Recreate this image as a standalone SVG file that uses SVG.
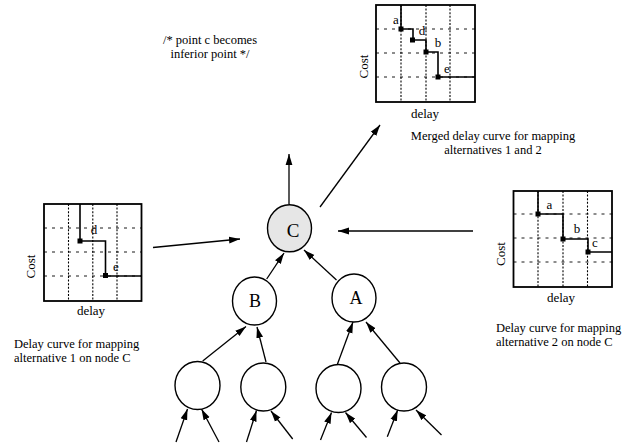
<svg xmlns="http://www.w3.org/2000/svg" width="644" height="445" viewBox="0 0 644 445">
<defs>
<marker id="ah" markerWidth="11" markerHeight="8" refX="11" refY="4" orient="auto" markerUnits="userSpaceOnUse"><path d="M0,0.6 L11,4 L0,7.4 z" fill="#000"/></marker>
<style>
text{font-family:"Liberation Serif","Times New Roman",serif;fill:#000}
.t{font-size:13px}
.l{font-size:12.5px}
.n{font-size:18px;text-anchor:middle}
.box{fill:#fff;stroke:#000;stroke-width:1.8}
.vg{stroke:#000;stroke-width:1.1;stroke-dasharray:2,1.6;fill:none}
.hg{stroke:#000;stroke-width:0.9;stroke-dasharray:3,5;fill:none}
.st{stroke:#000;stroke-width:1.6;fill:none}
.pt{fill:#000}
.node{fill:#fff;stroke:#000;stroke-width:1.4}
.edge{stroke:#000;stroke-width:1.3;fill:none;marker-end:url(#ah)}
</style>
</defs>
<rect width="644" height="445" fill="#fff"/>

<text class="l" x="210" y="44" text-anchor="middle">/* point c becomes</text>
<text class="l" x="210" y="58" text-anchor="middle">inferior point */</text>

<g id="chart-merged">
<rect class="box" x="376" y="5" width="99" height="97"/>
<path class="vg" d="M401,5V102M426,5V102M450,5V102"/>
<path class="hg" d="M376,29H476M376,53H477M376,77H476"/>
<path class="st" d="M401,5V29H413V40H426V52H438V77H475"/>
<rect class="pt" x="398.5" y="26.5" width="5" height="5"/>
<rect class="pt" x="410" y="37.5" width="5" height="5"/>
<rect class="pt" x="423.5" y="49.5" width="5" height="5"/>
<rect class="pt" x="435.5" y="74.5" width="5" height="5"/>
<text class="t" x="396" y="24" text-anchor="middle">a</text>
<text class="t" x="422" y="35" text-anchor="middle">d</text>
<text class="t" x="438" y="47" text-anchor="middle">b</text>
<text class="t" x="447" y="73" text-anchor="middle">e</text>
<text class="t" transform="translate(368,66.5) rotate(-90)" text-anchor="middle">Cost</text>
<text class="t" x="425" y="118" text-anchor="middle">delay</text>
<text class="l" x="493" y="140" text-anchor="middle">Merged delay curve for mapping</text>
<text class="l" x="493" y="154" text-anchor="middle">alternatives 1 and 2</text>
</g>

<g id="chart-alt1">
<rect class="box" x="44" y="204" width="97.5" height="97"/>
<path class="vg" d="M68.5,204V301M92.8,204V301M117,204V301"/>
<path class="hg" d="M44,228H142M44,252H142M44,276H142"/>
<path class="st" d="M80,204V241H105.5V276H141.5"/>
<rect class="pt" x="77.5" y="238.5" width="5" height="5"/>
<rect class="pt" x="103" y="273" width="5" height="5"/>
<text class="t" x="94" y="234" text-anchor="middle">d</text>
<text class="t" x="116" y="270.5" text-anchor="middle">e</text>
<text class="t" transform="translate(35,266.5) rotate(-90)" text-anchor="middle">Cost</text>
<text class="t" x="91" y="315" text-anchor="middle">delay</text>
<text class="l" x="14" y="348">Delay curve for mapping</text>
<text class="l" x="14" y="362">alternative 1 on node C</text>
</g>

<g id="chart-alt2">
<rect class="box" x="513.5" y="191" width="98.5" height="96"/>
<path class="vg" d="M538,191V287M563,191V287M587.5,191V287"/>
<path class="hg" d="M513.5,214H613M513.5,238H613M513.5,262H613"/>
<path class="st" d="M538,191V214H563V239H588V252H612"/>
<rect class="pt" x="535.5" y="211.5" width="5" height="5"/>
<rect class="pt" x="560.5" y="236.5" width="5" height="5"/>
<rect class="pt" x="585.5" y="249.5" width="5" height="5"/>
<text class="t" x="549.5" y="208.5" text-anchor="middle">a</text>
<text class="t" x="577" y="233" text-anchor="middle">b</text>
<text class="t" x="595" y="247" text-anchor="middle">c</text>
<text class="t" transform="translate(505,254) rotate(-90)" text-anchor="middle">Cost</text>
<text class="t" x="561" y="301.5" text-anchor="middle">delay</text>
<text class="l" x="496" y="332">Delay curve for mapping</text>
<text class="l" x="496" y="346">alternative 2 on node C</text>
</g>

<g id="connectors">
<line class="edge" x1="289" y1="204" x2="289" y2="154"/>
<line class="edge" x1="320" y1="207" x2="380" y2="125"/>
<line class="edge" x1="153" y1="247.5" x2="240" y2="239"/>
<line class="edge" x1="473" y1="231" x2="338" y2="231"/>
<line class="edge" x1="266.7" y1="279" x2="284" y2="253"/>
<line class="edge" x1="336.5" y1="280" x2="304" y2="250"/>
<line class="edge" x1="202.7" y1="361" x2="246" y2="326.5"/>
<line class="edge" x1="266" y1="362" x2="257" y2="327"/>
<line class="edge" x1="337.3" y1="364.5" x2="353" y2="322"/>
<line class="edge" x1="400" y1="363" x2="366" y2="322"/>
<line class="edge" x1="176" y1="442" x2="187.5" y2="409"/>
<line class="edge" x1="219" y1="442" x2="201.5" y2="409"/>
<line class="edge" x1="246.5" y1="442" x2="256.5" y2="410.5"/>
<line class="edge" x1="292.7" y1="439" x2="271" y2="411"/>
<line class="edge" x1="320.5" y1="440" x2="331.5" y2="412.5"/>
<line class="edge" x1="366.5" y1="437.5" x2="345.5" y2="412.5"/>
<line class="edge" x1="387.3" y1="436.7" x2="397.7" y2="410"/>
<line class="edge" x1="441.5" y1="435" x2="416" y2="410"/>
</g>

<g id="node-C">
<ellipse class="node" cx="289.5" cy="228.3" rx="22" ry="23.5" style="fill:#e6e6e6"/>
<text class="n" x="293" y="236.5" style="font-size:19px">C</text>
</g>
<g id="node-B">
<ellipse class="node" cx="254.5" cy="301" rx="22" ry="24"/>
<text class="n" x="255" y="307">B</text>
</g>
<g id="node-A">
<ellipse class="node" cx="354" cy="298" rx="22" ry="24"/>
<text class="n" x="356" y="303.5">A</text>
</g>
<g id="node-L1"><ellipse class="node" cx="197.5" cy="385.5" rx="22.5" ry="24"/></g>
<g id="node-L2"><ellipse class="node" cx="263.3" cy="387" rx="22.5" ry="24"/></g>
<g id="node-L3"><ellipse class="node" cx="338.5" cy="388.5" rx="22.5" ry="24"/></g>
<g id="node-L4"><ellipse class="node" cx="404" cy="387" rx="22.5" ry="24"/></g>
</svg>
